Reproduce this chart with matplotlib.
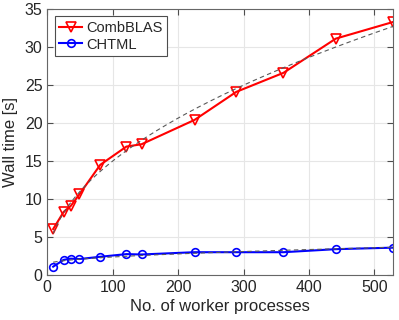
import numpy as np
import matplotlib.pyplot as plt

plt.rcParams['font.family'] = ['Liberation Sans', 'DejaVu Sans']
plt.rcParams['text.color'] = '0.15'
plt.rcParams['axes.labelcolor'] = '0.15'

# data
workers = [9, 25, 36, 49, 81, 121, 144, 225, 289, 361, 441, 529]
combblas = [6.05, 8.3, 9.1, 10.6, 14.5, 16.9, 17.2, 20.4, 24.1, 26.6, 31.1, 33.3]
chtml = [1.1, 2.0, 2.15, 2.1, 2.4, 2.75, 2.7, 3.0, 3.0, 3.0, 3.4, 3.6]

fig = plt.figure(figsize=(3.99, 3.2), dpi=100)
ax = fig.add_axes([0.1185, 0.1406, 0.8675, 0.8314])

ax.plot(workers, combblas, color='red', lw=1.5, marker='v', ms=7,
        mfc='none', mew=1.2, label='CombBLAS')
ax.plot(workers, chtml, color='blue', lw=1.5, marker='o', ms=5.5,
        mfc='none', mew=1.2, label='CHTML')

# sqrt fit lines (dashed)
x = np.array(workers, dtype=float)
xs = np.linspace(x.min(), x.max(), 200)
for y in (combblas, chtml):
    b, a = np.polyfit(np.sqrt(x), y, 1)
    ax.plot(xs, a + b * np.sqrt(xs), ls='--', color='0.35', lw=0.8,
            dashes=(4, 3))

ax.set_xlim(0, 529)
ax.set_ylim(0, 35)
ax.set_xticks([0, 100, 200, 300, 400, 500])
ax.set_yticks(range(0, 36, 5))
ax.grid(True, color='0.9', lw=0.8)
ax.set_axisbelow(True)
ax.tick_params(direction='in', top=True, right=True, labelsize=11.5,
               color='0.3', labelcolor='0.15', length=4)
for s in ax.spines.values():
    s.set_color('0.4')
ax.set_xlabel('No. of worker processes', fontsize=12, labelpad=3)
ax.set_ylabel('Wall time [s]', fontsize=12, labelpad=5)

leg = ax.legend(loc='upper left', fontsize=10.5, fancybox=False,
                framealpha=1, edgecolor='0.3', handlelength=1.6,
                borderaxespad=0.5, labelspacing=0.2, borderpad=0.3,
                handletextpad=0.3)
leg.get_frame().set_linewidth(0.8)

fig.savefig('out.png', dpi=100)
